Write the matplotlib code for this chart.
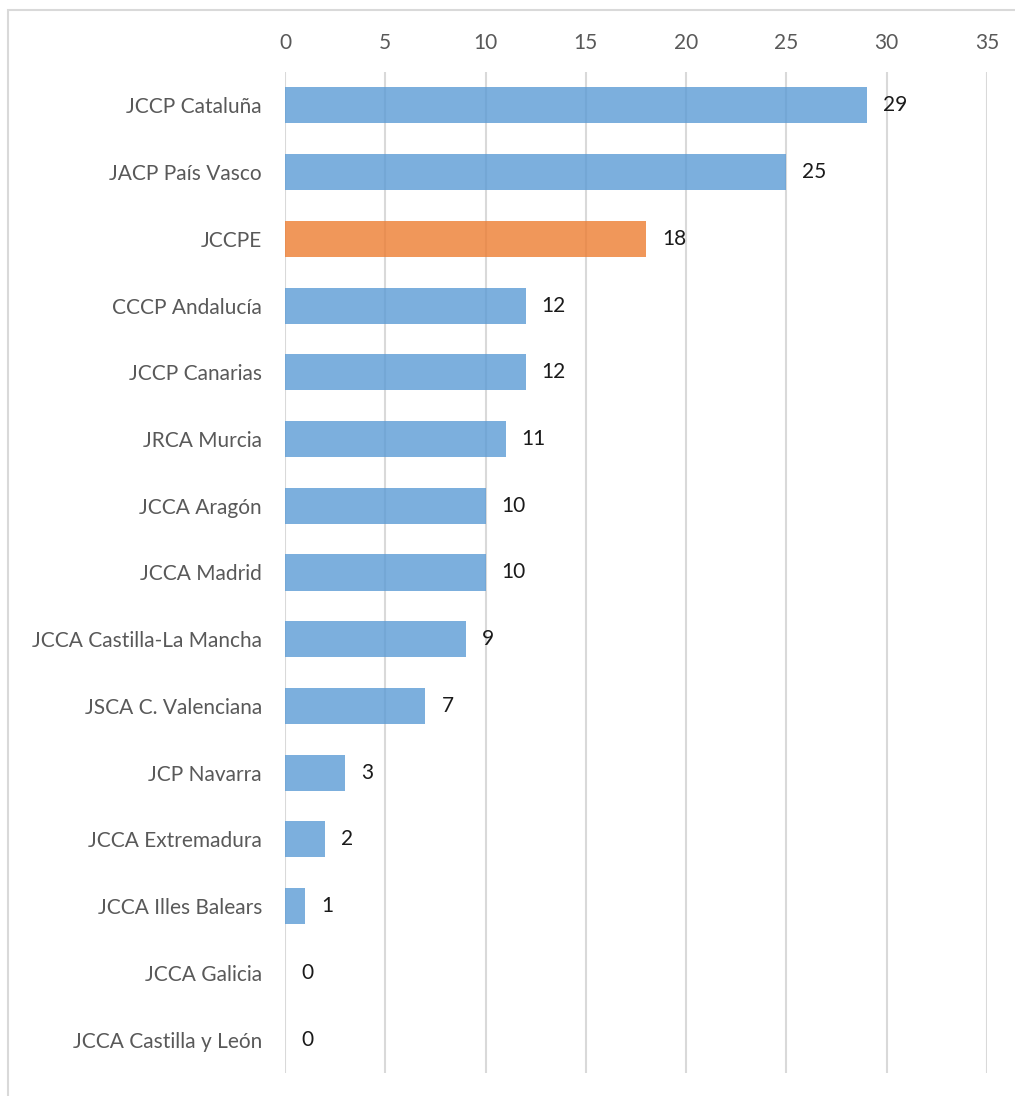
import matplotlib.pyplot as plt
from matplotlib.patches import Rectangle

# data, top to bottom as in the chart
organismos = [
    "JCCP Cataluña", "JACP País Vasco", "JCCPE", "CCCP Andalucía",
    "JCCP Canarias", "JRCA Murcia", "JCCA Aragón", "JCCA Madrid",
    "JCCA Castilla-La Mancha", "JSCA C. Valenciana", "JCP Navarra",
    "JCCA Extremadura", "JCCA Illes Balears", "JCCA Galicia",
    "JCCA Castilla y León",
]
valores = [29, 25, 18, 12, 12, 11, 10, 10, 9, 7, 3, 2, 1, 0, 0]
destacado = "JCCPE"
x_ticks = [0, 5, 10, 15, 20, 25, 30, 35]

AZUL = "#5B9BD5"
NARANJA = "#ED7D31"
GRIS_TEXTO = "#595959"

plt.rcParams['font.family'] = ['Lato', 'DejaVu Sans']

fig = plt.figure(figsize=(10.15, 10.96), dpi=100)
ax = fig.add_axes([285 / 1015, 1 - 1073 / 1096, (987 - 285) / 1015, (1073 - 72) / 1096])

# chart frame (light gray border like the excel export)
fig.patches.append(Rectangle((8 / 1015, -0.01), 1.0, 1 - 10 / 1096 + 0.01,
                             transform=fig.transFigure, fill=False,
                             edgecolor="#D9D9D9", linewidth=1.5))

posiciones = list(range(len(organismos)))
colores = [NARANJA if o == destacado else AZUL for o in organismos]
ax.barh(posiciones, valores, height=0.54, color=colores, alpha=0.8, zorder=3)

for p, v in zip(posiciones, valores):
    ax.text(v + 0.8, p, str(v), va="center", ha="left", fontsize=15, color="#1a1a1a")

ax.set_xlim(0, 35)
ax.set_ylim(len(organismos) - 0.5, -0.5)
ax.set_xticks(x_ticks)
ax.set_yticks(posiciones)
ax.set_yticklabels(organismos)
ax.xaxis.tick_top()
ax.tick_params(axis="x", length=0, pad=14, labelsize=15, labelcolor=GRIS_TEXTO)
ax.tick_params(axis="y", length=0, pad=16.5, labelsize=15, labelcolor=GRIS_TEXTO)
ax.grid(axis="x", color="#D9D9D9", linewidth=1.5, zorder=0)
for s in ax.spines.values():
    s.set_visible(False)

fig.savefig("out.png", dpi=100)
